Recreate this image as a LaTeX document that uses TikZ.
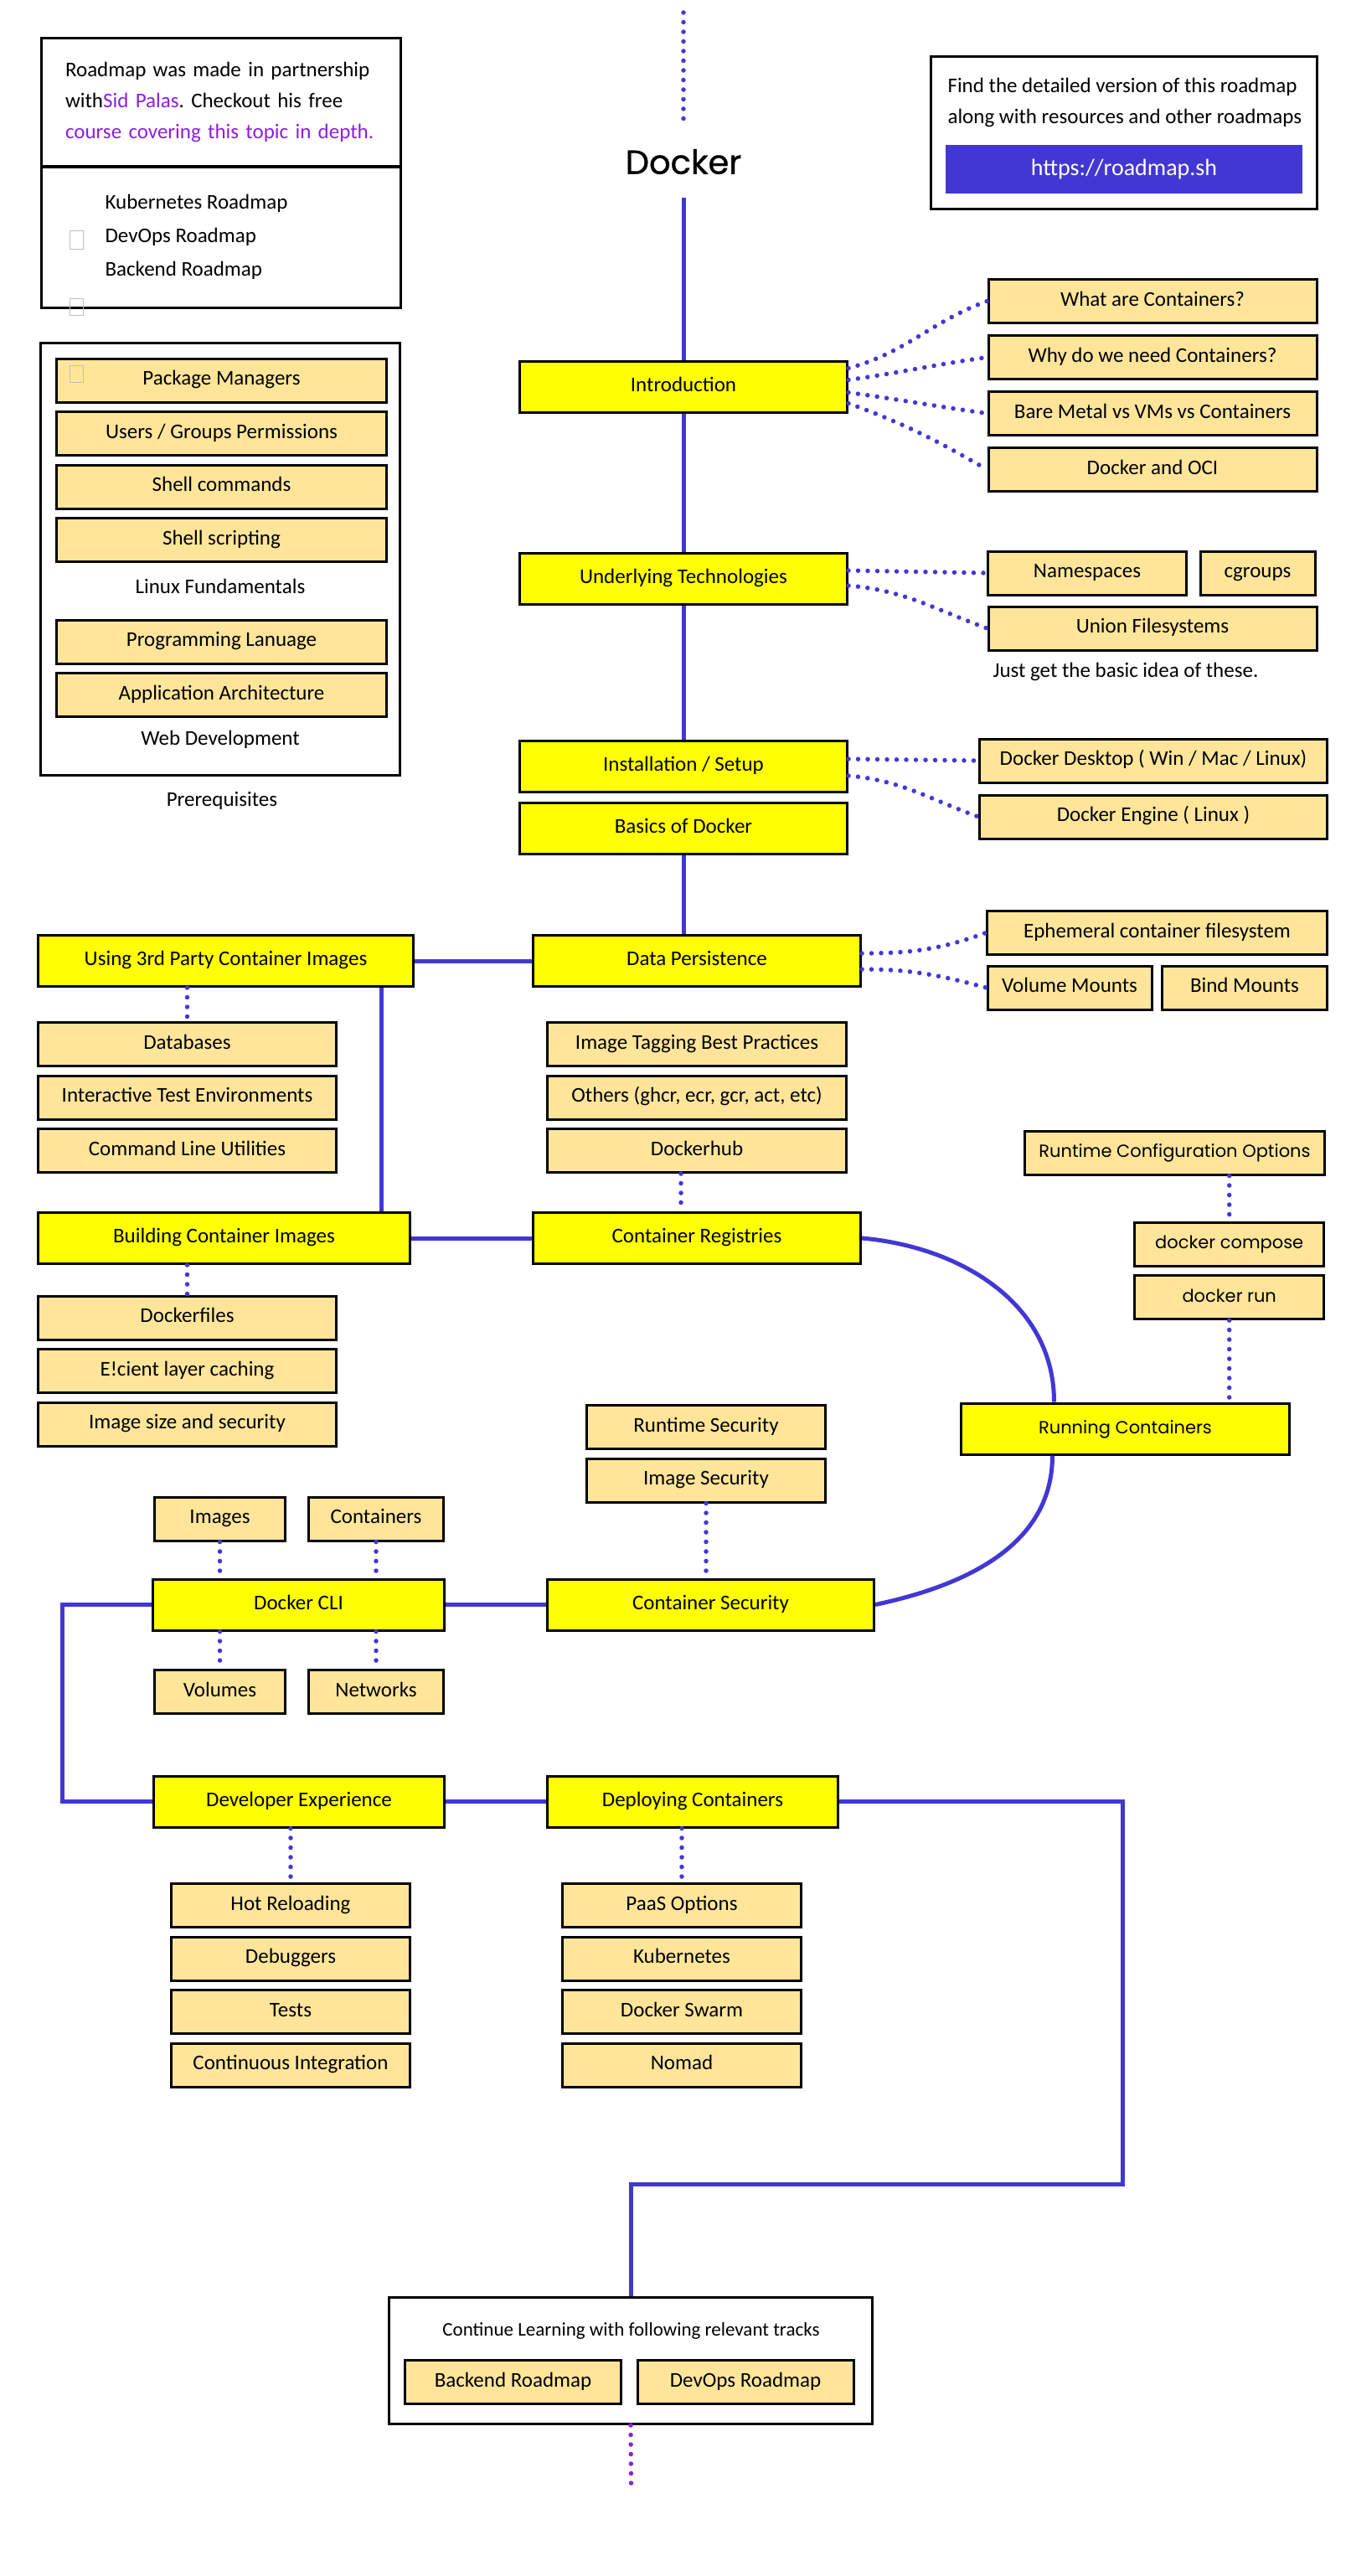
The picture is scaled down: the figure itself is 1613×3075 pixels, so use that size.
\documentclass[tikz,border=0pt]{standalone}
\usepackage{fontspec}
\setmainfont{Carlito}
\newfontfamily\poppins{Poppins}
\newfontfamily\poppinstitle[FakeBold=0.8]{Poppins}
\usepackage{xcolor}
\usepackage{tikz}
\usetikzlibrary{positioning,calc}
\frenchspacing

\definecolor{rmblue}{RGB}{66,55,212}
\definecolor{rmyellow}{RGB}{255,255,0}
\definecolor{rmbeige}{RGB}{255,229,153}
\definecolor{rmpurple}{RGB}{140,30,225}

\begin{document}
\begin{tikzpicture}[
    x=1pt, y=-1pt,
    node distance=8.5pt,
    font=\fontsize{25}{30}\selectfont,
    topic/.style={rectangle, draw=black, fill=rmyellow, line width=3pt, minimum height=61pt, text centered, inner sep=0pt, text height=16pt, text depth=5pt},
    subtopic/.style={rectangle, draw=black, fill=rmbeige, line width=3pt, minimum height=52pt, text centered, inner sep=0pt, text height=16pt, text depth=5pt},
    panel/.style={rectangle, draw=black, line width=3pt, inner sep=0pt},
    altfont/.style={font=\poppins\fontsize{21}{24}\selectfont},
    mainline/.style={draw=rmblue, line width=5pt},
    dotline/.style={draw=rmblue, line width=5.5pt, line cap=round, dash pattern=on 0pt off 11.5pt},
    icon/.style={draw=gray!50, line width=1pt}
]
    \useasboundingbox (0,0) rectangle (1613,3075);

    \node[panel, text width=372pt, inner xsep=28.5pt, minimum height=152pt, align=left, font=\fontsize{25}{37}\selectfont] (partner) at (264,122) {Roadmap was made in partnership\\with\textcolor{rmpurple}{Sid Palas}. Checkout his free\\\textcolor{rmpurple}{course covering this topic in depth.}};
    \node[panel, minimum width=429pt, minimum height=168pt] (links) at (264,283) {};
    \node[align=left, anchor=west, font=\fontsize{25}{40}\selectfont] (linkst) at (122,283) {Kubernetes Roadmap\\DevOps Roadmap\\Backend Roadmap};

    \node[panel, minimum width=429pt, minimum height=516pt] (prereq) at (263,667) {};
    \node[subtopic, minimum width=394pt] (pkg) at (264.5,454) {Package Managers};
    \node[subtopic, minimum width=394pt, below=of pkg] (users) {Users / Groups Permissions};
    \node[subtopic, minimum width=394pt, below=of users] (shellc) {Shell commands};
    \node[subtopic, minimum width=394pt, below=of shellc] (shells) {Shell scripting};
    \node (linuxf) at (263,700) {Linux Fundamentals};
    \node[subtopic, minimum width=394pt] (prog) at (264.5,766) {Programming Lanuage};
    \node[subtopic, minimum width=394pt, below=of prog] (arch) {Application Architecture};
    \node (webdev) at (263,883) {Web Development};
    \node (prereqt) at (265,956) {Prerequisites};
    \draw[icon] (83,275) rectangle (99,297) (83,356) rectangle (99,376) (83,436) rectangle (99,456);

    \node[panel, minimum width=461pt, minimum height=182pt] (findbox) at (1342,158.5) {};
    \node[align=left, anchor=west, font=\fontsize{25}{37}\selectfont] (findt) at (1128,122) {Find the detailed version of this roadmap\\along with resources and other roadmaps};
    \node[fill=rmblue, minimum width=426pt, minimum height=58pt, text=white, font=\fontsize{28}{30}\selectfont] (site) at (1342,202) {https://roadmap.sh};

    \coordinate (top) at (816,15);
    \node[font=\poppinstitle\fontsize{40}{42}\selectfont, inner ysep=28pt] (title) at (816,193) {Docker};

    \node[topic, minimum width=391pt] (intro) at (816,461.5) {Introduction};
    \node[topic, minimum width=391pt] (under) at (816,691) {Underlying Technologies};
    \node[topic, minimum width=391pt] (install) at (816,915) {Installation / Setup};
    \node[topic, minimum width=391pt] (basics) at (816,988.5) {Basics of Docker};

    \node[subtopic, minimum width=392pt] (whatc) at (1376,359.5) {What are Containers?};
    \node[subtopic, minimum width=392pt, below=12pt of whatc] (whyc) {Why do we need Containers?};
    \node[subtopic, minimum width=392pt, below=12pt of whyc] (bare) {Bare Metal vs VMs vs Containers};
    \node[subtopic, minimum width=392pt, below=12pt of bare] (oci) {Docker and OCI};

    \node[subtopic, minimum width=237pt] (ns) at (1298,684) {Namespaces};
    \node[subtopic, minimum width=137pt] (cg) at (1501.5,684) {cgroups};
    \node[subtopic, minimum width=392pt] (union) at (1376,750) {Union Filesystems};
    \node[anchor=west] (basicidea) at (1182,802) {Just get the basic idea of these.};

    \node[subtopic, minimum width=415pt] (desktop) at (1377,908) {Docker Desktop ( Win / Mac / Linux)};
    \node[subtopic, minimum width=415pt, below=12pt of desktop] (engine) {Docker Engine ( Linux )};

    \node[topic, minimum width=391pt] (datap) at (832,1147) {Data Persistence};
    \node[topic, minimum width=448pt] (third) at (269.5,1147) {Using 3rd Party Container Images};
    \node[subtopic, minimum width=406pt] (ephem) at (1381.5,1113.5) {Ephemeral container filesystem};
    \node[subtopic, minimum width=196pt] (volm) at (1277,1179) {Volume Mounts};
    \node[subtopic, minimum width=197pt] (bindm) at (1486,1179) {Bind Mounts};

    \node[subtopic, minimum width=356pt] (db) at (223.5,1246.5) {Databases};
    \node[subtopic, minimum width=356pt, below=of db] (ite) {Interactive Test Environments};
    \node[subtopic, minimum width=356pt, below=of ite] (clu) {Command Line Utilities};
    \node[subtopic, minimum width=357pt] (tag) at (832,1246.5) {Image Tagging Best Practices};
    \node[subtopic, minimum width=357pt, below=of tag] (others) {Others (ghcr, ecr, gcr, act, etc)};
    \node[subtopic, minimum width=357pt, below=of others] (hub) {Dockerhub};

    \node[topic, minimum width=444pt] (building) at (267.5,1478) {Building Container Images};
    \node[topic, minimum width=391pt] (registries) at (832,1478) {Container Registries};
    \node[subtopic, minimum width=356pt] (dfiles) at (223.5,1573) {Dockerfiles};
    \node[subtopic, minimum width=356pt, below=of dfiles] (cache) {E!cient layer caching};
    \node[subtopic, minimum width=356pt, below=of cache] (isize) {Image size and security};

    \node[subtopic, altfont, minimum width=358pt] (rco) at (1402.5,1376) {Runtime Configuration Options};
    \node[subtopic, altfont, minimum width=226pt] (compose) at (1467.7,1485) {docker compose};
    \node[subtopic, altfont, minimum width=226pt, below=of compose] (drun) {docker run};
    \node[topic, altfont, minimum width=392pt] (running) at (1343.5,1705.5) {Running Containers};

    \node[subtopic, minimum width=285pt] (rsec) at (843,1703.5) {Runtime Security};
    \node[subtopic, minimum width=285pt, below=of rsec] (isec) {Image Security};

    \node[topic, minimum width=348pt] (cli) at (356.5,1915.5) {Docker CLI};
    \node[topic, minimum width=390pt] (security) at (848.5,1915.5) {Container Security};
    \node[subtopic, minimum width=156pt] (images) at (262.5,1813) {Images};
    \node[subtopic, minimum width=161pt] (conts) at (449,1813) {Containers};
    \node[subtopic, minimum width=156pt] (vols) at (262.5,2019.5) {Volumes};
    \node[subtopic, minimum width=161pt] (nets) at (449,2019.5) {Networks};

    \node[topic, minimum width=347pt] (devexp) at (357,2150.5) {Developer Experience};
    \node[topic, minimum width=347pt] (deploy) at (827,2150.5) {Deploying Containers};
    \node[subtopic, minimum width=285pt] (hot) at (347,2274.7) {Hot Reloading};
    \node[subtopic, minimum width=285pt, below=of hot] (debug) {Debuggers};
    \node[subtopic, minimum width=285pt, below=of debug] (tests) {Tests};
    \node[subtopic, minimum width=285pt, below=of tests] (ci) {Continuous Integration};
    \node[subtopic, minimum width=285pt] (paas) at (814,2274.7) {PaaS Options};
    \node[subtopic, minimum width=285pt, below=of paas] (k8s) {Kubernetes};
    \node[subtopic, minimum width=285pt, below=of k8s] (swarm) {Docker Swarm};
    \node[subtopic, minimum width=285pt, below=of swarm] (nomad) {Nomad};

    \node[panel, minimum width=577pt, minimum height=151pt] (cont) at (753,2818) {};
    \node[font=\fontsize{23}{28}\selectfont] (contt) at (753.5,2782) {Continue Learning with following relevant tracks};
    \node[subtopic, minimum width=258pt] (backend) at (612.5,2843.7) {Backend Roadmap};
    \node[subtopic, minimum width=258pt] (devops) at (890,2843.7) {DevOps Roadmap};
    \coordinate (bottom) at (753.5,2965);
    \coordinate (tb) at ([xshift=-40pt]third.south east);

    \draw[dotline] (top) -- (title.north);
    \draw[mainline] (title.south) -- (intro.north);
    \draw[mainline] (intro.south) -- (under.north);
    \draw[mainline] (under.south) -- (install.north);
    \draw[mainline] (basics.south) -- (basics.south |- datap.north);
    \draw[mainline] (third.east) -- (datap.west);
    \draw[mainline] (tb) -- (tb |- building.north);
    \draw[mainline] (building.east) -- (registries.west);
    \draw[mainline] (registries.east) to[out=-5, in=90] ([xshift=-85pt]running.north);
    \draw[mainline] ([xshift=-87pt]running.south) to[out=-90, in=12] (security.east);
    \draw[mainline] (security.west) -- (cli.east);
    \draw[mainline] (cli.west) -- ++(-107,0) |- (devexp.west);
    \draw[mainline] (devexp.east) -- (deploy.west);
    \draw[mainline] (deploy.east) -| ++(338,457) -| (cont.north);

    \draw[dotline] ([yshift=22pt]intro.east) to[out=15, in=200] (whatc.west);
    \draw[dotline] ([yshift=8pt]intro.east) to[out=8, in=188] (whyc.west);
    \draw[dotline] ([yshift=-7pt]intro.east) to[out=-8, in=172] (bare.west);
    \draw[dotline] ([yshift=-20pt]intro.east) to[out=-20, in=150] (oci.west);
    \draw[dotline] ([yshift=10pt]under.east) -- (ns.west);
    \draw[dotline] ([yshift=-8pt]under.east) to[out=-5, in=160] (union.west);
    \draw[dotline] ([yshift=9pt]install.east) -- (desktop.west);
    \draw[dotline] ([yshift=-11pt]install.east) to[out=-5, in=160] (engine.west);
    \draw[dotline] ([yshift=9pt]datap.east) to[out=0, in=200] (ephem.west);
    \draw[dotline] ([yshift=-10pt]datap.east) to[out=0, in=165] (volm.west);
    \draw[dotline] (db.north |- third.south) -- (db.north);
    \draw[dotline] ([xshift=-19pt]hub.south) -- ([xshift=-19pt]registries.north);
    \draw[dotline] (dfiles.north |- building.south) -- (dfiles.north);
    \draw[dotline] (compose.north |- rco.south) -- (compose.north);
    \draw[dotline] (drun.south) -- (drun.south |- running.north);
    \draw[dotline] (isec.south) -- (isec.south |- security.north);
    \draw[dotline] (images.south) -- (images.south |- cli.north);
    \draw[dotline] (conts.south) -- (conts.south |- cli.north);
    \draw[dotline] (vols.north |- cli.south) -- (vols.north);
    \draw[dotline] (nets.north |- cli.south) -- (nets.north);
    \draw[dotline] (hot.north |- devexp.south) -- (hot.north);
    \draw[dotline] (paas.north |- deploy.south) -- (paas.north);
    \draw[dotline, draw=rmpurple] (cont.south) -- (bottom);
\end{tikzpicture}
\end{document}
